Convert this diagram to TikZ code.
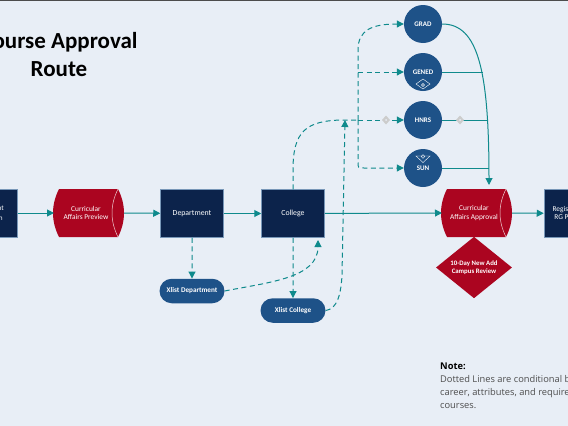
\documentclass[tikz,border=0pt]{standalone}
\usepackage{fontspec}
\setmainfont{Carlito}
\newfontfamily\notefont{Open Sans}
\usetikzlibrary{arrows.meta,shapes.geometric,shapes.misc,calc}
\definecolor{bgc}{HTML}{E8EEF6}
\definecolor{navyc}{HTML}{0C234B}
\definecolor{redc}{HTML}{AB0520}
\definecolor{bluec}{HTML}{1E5288}
\definecolor{tealc}{HTML}{0F8A8C}
\tikzset{
  x=1pt,y=-1pt,
  flow/.style={draw=tealc,line width=1pt,-{Triangle[length=7pt,width=7pt]}},
  plain/.style={draw=tealc,line width=1pt},
  dashflow/.style={flow,dash pattern=on 5pt off 3.5pt},
  plaindash/.style={plain,dash pattern=on 5pt off 3.5pt},
  boxn/.style={draw=bluec!60!white,line width=0.5pt,fill=navyc,text=white,minimum width=63pt,minimum height=48pt,inner sep=0pt,font=\fontsize{7.8}{9.5}\selectfont,align=center},
  pill/.style={rounded rectangle,fill=bluec,text=white,minimum width=65pt,minimum height=24.5pt,inner sep=0pt,font=\fontsize{7.2}{9}\selectfont\bfseries,align=center},
  circ/.style={circle,fill=bluec,text=white,minimum size=38pt,inner sep=0pt,font=\fontsize{7}{9}\selectfont\bfseries},
  lbl/.style={text=white,font=\fontsize{7.4}{8.5}\selectfont,align=center,inner sep=0pt},
  icon/.style={draw=white,line width=0.4pt}
}
\newcommand{\cyl}[2]{%
  \fill[redc] (#1,#2-24) -- (#1+59,#2-24) .. controls (#1+67,#2-8) and (#1+67,#2+8) .. (#1+59,#2+24) -- (#1,#2+24) .. controls (#1-8,#2+8) and (#1-8,#2-8) .. (#1,#2-24) -- cycle;
  \draw[white!80!redc,line width=0.5pt] (#1+59,#2-24) .. controls (#1+51,#2-8) and (#1+51,#2+8) .. (#1+59,#2+24);
}
\begin{document}
\begin{tikzpicture}
\useasboundingbox (0,0) rectangle (568,426);
\fill[bgc] (0,0) rectangle (568,426);
\fill[black!70] (0,0) rectangle (568,1);

\node[font=\fontsize{23}{28}\selectfont\bfseries,align=center] (title) at (59,55) {Course Approval\\Route};

\node[boxn,font=\fontsize{7.2}{9.5}\selectfont] (start) at (-14,213) {Department\\Submission};
\cyl{59}{213}
\node[lbl] (cap) at (86,213) {Curricular\\Affairs Preview};
\coordinate (capL) at (54,213); \coordinate (capR) at (124,213);
\node[boxn] (dept) at (192,213.500) {Department};
\node[boxn] (coll) at (293,213.500) {College};
\cyl{447}{213}
\node[lbl] (caa) at (474,213) {Curricular\\Affairs Approval};
\coordinate (caaL) at (442,213); \coordinate (caaR) at (512,213);
\node[boxn,font=\fontsize{7.4}{8.5}\selectfont] (reg) at (575.500,213.500) {Registrar Office\\RG Processing};
\node[diamond,fill=redc,text=white,minimum width=76pt,minimum height=61pt,inner sep=0pt,font=\fontsize{6.8}{8.5}\selectfont\bfseries,align=center] (rev) at (474,267.500) {10-Day New Add\\Campus Review};
\node[pill] (xd) at (192,291) {Xlist Department};
\node[pill] (xc) at (293,310.500) {Xlist College};
\node[circ] (grad) at (423,24) {GRAD};
\node[circ] (gened) at (423,72) {GENED};
\node[circ] (hnrs) at (423,120) {HNRS};
\node[circ] (sun) at (423,168) {SUN};

% small diamond icons
\draw[icon] (416,84) -- (423,79) -- (430,84) -- (423,89) -- cycle;
\draw[icon] (423,85) circle (1.500);
\draw[icon] (416,156) -- (430,156) -- (423,162.500) -- cycle;
\draw[icon] (423,156.500) circle (1.800);

% solid flows
\draw[flow] (start.east) -- (capL);
\draw[flow] (capR) -- (dept);
\draw[flow] (dept) -- (coll);
\draw[flow] (coll) -- (caaL);
\draw[flow] (caaR) -- (reg);
% dashed flows
\draw[dashflow] (dept) -- (xd);
\draw[dashflow] (coll) -- (xc);
\coordinate (xdTip) at (318,240);
\draw[dashflow] (xd.east) .. controls (270,282) and (318,278) .. (xdTip);
\coordinate (up) at (345,120);
\coordinate (xcBend) at (342,275);
\draw[dashflow] (xc.east) .. controls (337,309) and (341,295) .. (xcBend) -- (up);
\draw[plaindash] (coll.north) -- (293,170) .. controls (293,132) and (305,120) .. (up) -- (358,120);
\coordinate (sp) at (358,120);
\draw[dashflow] (sp) -- (hnrs);
\draw[dashflow] (sp) -- (358,50) .. controls (358,30) and (372,24) .. (grad);
\draw[dashflow] (358,72) -- (gened);
\draw[dashflow] (sp) -- (358,162) .. controls (358,168) .. (364,168) -- (sun);
% solid merges
\draw[flow] (grad) .. controls (478,24) and (489,70) .. (489,185);
\draw[plain] (gened) -- (483,72);
\draw[plain] (hnrs) -- (488,120);
\draw[plain] (sun) -- (489,168);
% grey markers
\foreach \p in {386,460}{
  \fill[gray!40] (\p-4,120) -- (\p,115.500) -- (\p+4,120) -- (\p,124.500) -- cycle;
  \fill[bgc] (\p,120) circle (1);
}

\node[anchor=north west,font=\notefont\fontsize{9.3}{13}\selectfont,align=left,text=black!70,inner sep=0pt] (note) at (440,362.500) {{\bfseries\color{black}Note:}\\Dotted Lines are conditional based on\\career, attributes, and requirements of\\courses.};
\end{tikzpicture}
\end{document}
